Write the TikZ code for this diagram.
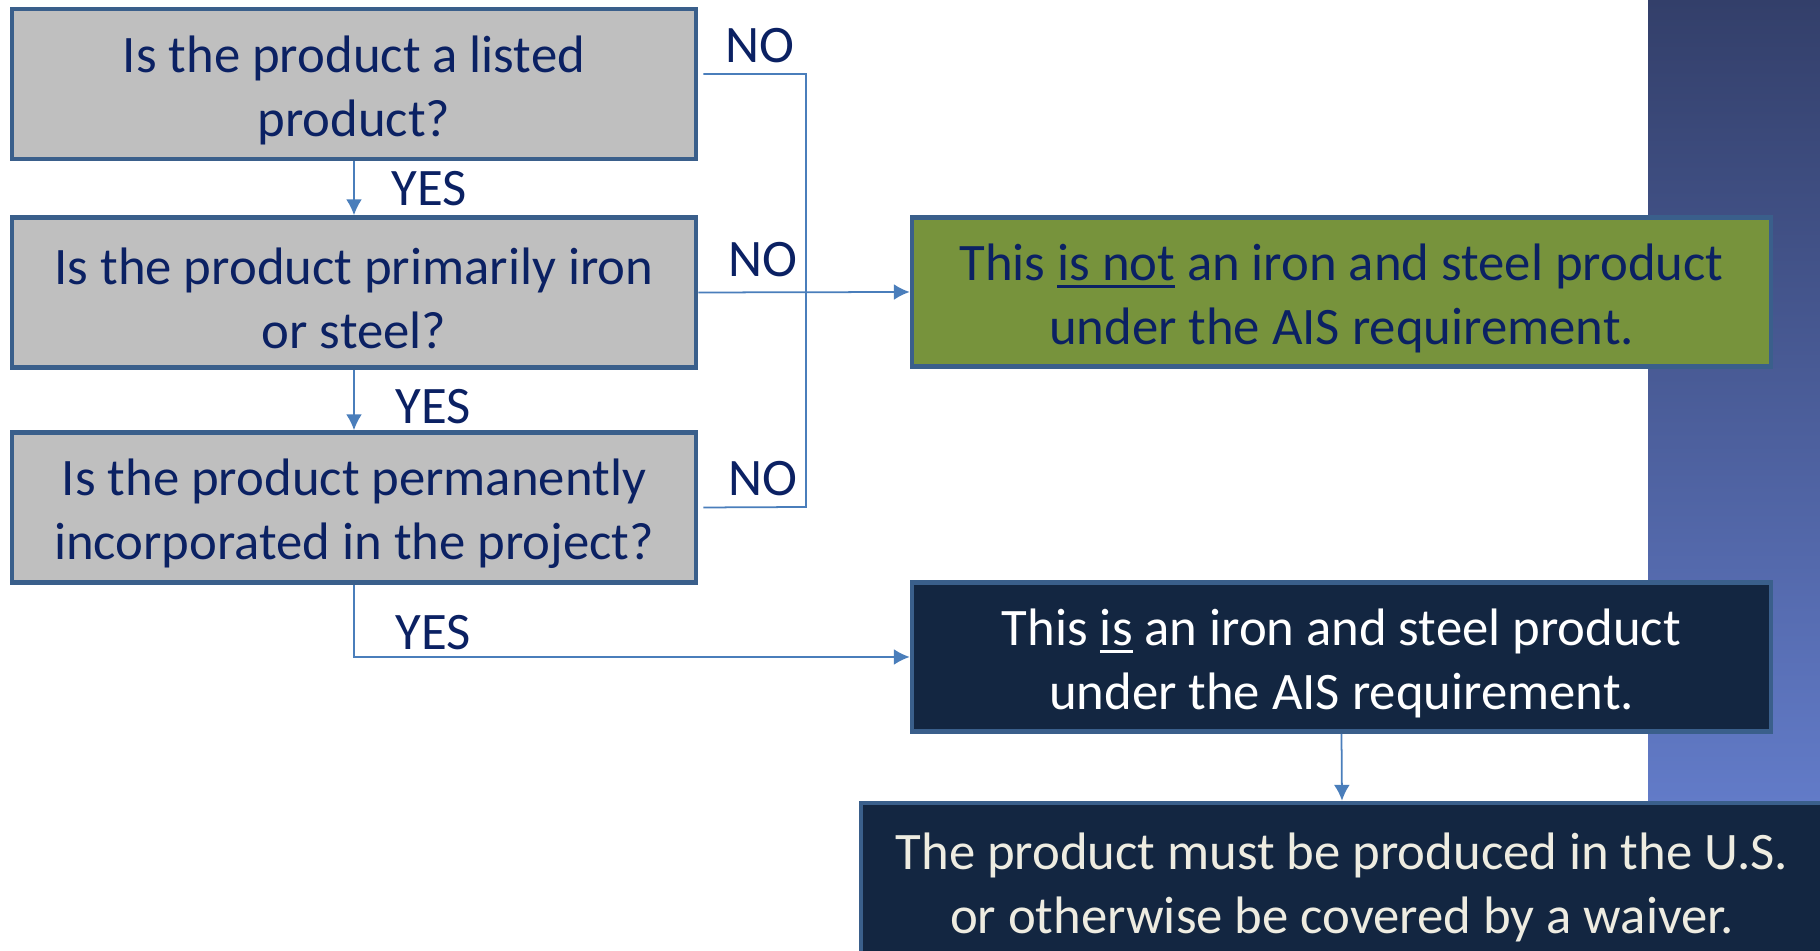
\documentclass[tikz,border=0pt]{standalone}
\usepackage{fontspec}
\setmainfont{Carlito}
\usepackage{tikz}
\usetikzlibrary{positioning}
\usetikzlibrary{arrows.meta}
\tikzset{>=latex}

\definecolor{navytext}{HTML}{0B2163}
\definecolor{boxedge}{HTML}{3A5F8B}
\definecolor{qgray}{HTML}{BFBFBF}
\definecolor{okgreen}{HTML}{77933C}
\definecolor{darkfill}{HTML}{132641}
\definecolor{linkblue}{HTML}{4A7EBB}
\definecolor{creamtext}{HTML}{EEECE1}
\definecolor{striptop}{HTML}{333F6A}
\definecolor{stripbot}{HTML}{627BC8}

% thick underline as in the slide
\newcommand{\thickul}[1]{\setbox0\hbox{#1}\rlap{\rule[-0.08cm]{\wd0}{0.03cm}}\box0\relax}
% pushes a two-line text a little lower in its box
\newcommand{\lowstrut}{\rule{0pt}{0.49cm}}

\tikzset{
  qbox/.style={draw=boxedge, line width=1.3pt, fill=qgray, text=navytext,
    minimum width=6.84cm, minimum height=1.50cm, inner ysep=0pt, align=center,
    font=\fontsize{15}{18.2}\selectfont},
  endbox/.style={qbox, minimum width=8.59cm, minimum height=1.49cm},
  lbl/.style={text=navytext, font=\fontsize{15}{18.2}\selectfont, inner sep=0pt},
  link/.style={draw=linkblue, line width=0.5pt},
  arrow/.style={link, -{Latex[length=4.5pt,width=4.5pt]}}
}

\begin{document}
\begin{tikzpicture}
  % --- Frame ---
  \useasboundingbox (0,0) rectangle (18.2,-9.51);
  \clip (0,0) rectangle (18.2,-9.51);

  % --- 1. Background strip ---
  \shade[top color=striptop, bottom color=stripbot] (16.48,0) rectangle (18.2,-8.03);

  % --- 2. Questions ---
  \node[qbox] (listed) at (3.54,-0.84) {\lowstrut Is the product a listed\\product?};
  \node[qbox] (ironsteel) at (3.54,-2.925) {\lowstrut Is the product primarily iron\\or steel?};
  \node[qbox] (incorp) at (3.54,-5.075) {\lowstrut Is the product permanently\\incorporated in the project?};

  % --- 3. Outcomes ---
  \node[endbox, fill=okgreen] (notais) at (13.415,-2.92)
    {\lowstrut This \thickul{is not} an iron and steel product\\under the AIS requirement.};
  \node[endbox, fill=darkfill, text=white] (isais) at (13.415,-6.57)
    {\lowstrut This \thickul{is} an iron and steel product\\under the AIS requirement.};
  \node[endbox, fill=darkfill, text=creamtext, minimum width=9.62cm,
    minimum height=1.57cm] (waiver) at (13.42,-8.815)
    {\lowstrut The product must be produced in the U.S.\\or otherwise be covered by a waiver.};

  % --- 4. Connectors ---
  \coordinate (notop) at (8.06,-0.74);
  \coordinate (nobot) at (8.06,-5.07);
  \draw[link] ([shift={(0.05,0.10)}]listed.east) -- (notop) -- (nobot)
    -- ([xshift=0.05cm]incorp.east);
  \draw[arrow] (ironsteel.east) -- (notais.west);
  \draw[arrow] (listed.south) -- (ironsteel.north);
  \draw[arrow] (ironsteel.south) -- (incorp.north);
  \draw[arrow] (incorp.south) |- (isais.west);
  \draw[arrow] (isais.south) -- (waiver.north);

  % --- 5. Labels ---
  \node[lbl] (no1) at (7.60,-0.46) {NO};
  \node[lbl] (no2) at (7.63,-2.60) {NO};
  \node[lbl] (no3) at (7.63,-4.79) {NO};
  \node[lbl] (yes1) at (4.29,-1.89) {YES};
  \node[lbl] (yes2) at (4.33,-4.07) {YES};
  \node[lbl] (yes3) at (4.33,-6.33) {YES};
\end{tikzpicture}
\end{document}
